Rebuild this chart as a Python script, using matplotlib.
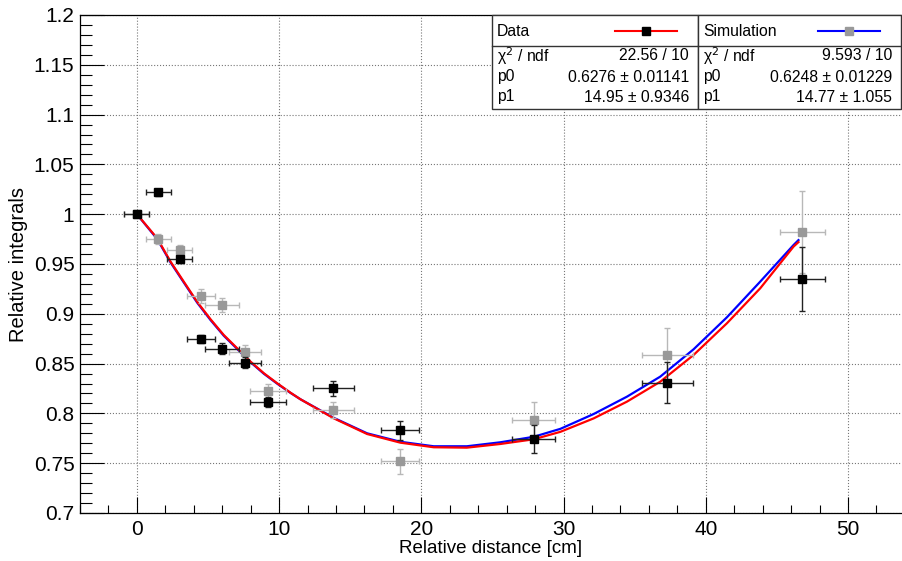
import numpy as np
import matplotlib.pyplot as plt
from matplotlib.patches import Rectangle
from matplotlib.lines import Line2D
from matplotlib.ticker import MultipleLocator

plt.rcParams['font.family'] = ['Liberation Sans', 'DejaVu Sans']

dist = [0.0, 1.5, 3.0, 4.5, 6.0, 7.6, 9.2, 13.8, 18.5, 27.9, 37.3, 46.8]
dist_err = [0.88, 0.87, 0.91, 1.0, 1.2, 1.1, 1.26, 1.44, 1.34, 1.53, 1.79, 1.57]

data_y = [1.000, 1.022, 0.955, 0.875, 0.865, 0.851, 0.811, 0.825, 0.783, 0.774, 0.831, 0.935]
data_err = [0.003, 0.0033, 0.0035, 0.004, 0.0053, 0.0057, 0.005, 0.008, 0.0097, 0.014, 0.021, 0.032]

sim_y = [1.000, 0.975, 0.964, 0.918, 0.909, 0.862, 0.822, 0.803, 0.752, 0.793, 0.859, 0.982]
sim_err = [0.003, 0.0047, 0.005, 0.0067, 0.007, 0.007, 0.008, 0.008, 0.0125, 0.018, 0.027, 0.041]

# fitted curves
fit_x = [0.0, 1.43, 2.37, 3.3, 4.24, 5.18, 6.11, 7.06, 7.99, 8.93, 9.87, 10.8, 11.5,
         13.85, 16.19, 18.53, 20.87, 23.2, 25.56, 27.9, 29.78, 32.12, 34.46, 36.8,
         39.14, 41.49, 43.83, 46.17, 46.52]
fit_data = [1.0, 0.9758, 0.9523, 0.9322, 0.912, 0.8945, 0.8787, 0.8653, 0.852, 0.8403, 0.8302,
            0.8208, 0.8142, 0.795, 0.7793, 0.7706, 0.766, 0.7656, 0.7693, 0.774, 0.7815, 0.795,
            0.8118, 0.8318, 0.8586, 0.8905, 0.9256, 0.9674, 0.972]
fit_sim = [1.0, 0.975, 0.9515, 0.9314, 0.9112, 0.8937, 0.878, 0.8646, 0.8514, 0.8398, 0.8298,
           0.8206, 0.8142, 0.7955, 0.780, 0.7715, 0.767, 0.767, 0.771, 0.7765, 0.7845, 0.7994,
           0.8168, 0.8369, 0.8643, 0.8965, 0.9323, 0.969, 0.974]

stats_data = [("χ$^2$ / ndf", "22.56 / 10"), ("p0", "0.6276 ± 0.01141"), ("p1", "14.95 ± 0.9346")]
stats_sim = [("χ$^2$ / ndf", "9.593 / 10"), ("p0", "0.6248 ± 0.01229"), ("p1", "14.77 ± 1.055")]

W, H = 902, 561
fig = plt.figure(figsize=(W / 100, H / 100), dpi=100)
ax = fig.add_axes([80 / W, 48 / H, 1 - 80 / W, 498 / H])


def px(x, y):
    # pixel coords (top-left origin) -> figure fraction
    return x / W, 1 - y / H


ax.plot(fit_x, fit_sim, color='blue', lw=1.6, zorder=3)
ax.plot(fit_x, fit_data, color='red', lw=1.6, zorder=4)

ax.errorbar(dist, sim_y, xerr=dist_err, yerr=sim_err, fmt='s', ms=5.5,
            color='#999999', ecolor='#b8b8b8', elinewidth=1, capsize=2, zorder=5)
ax.errorbar(dist, data_y, xerr=dist_err, yerr=data_err, fmt='s', ms=5.5,
            color='black', ecolor='#222222', elinewidth=1, capsize=2, zorder=6)

ax.set_xlim(-4, 53.8)
ax.set_ylim(0.7, 1.2)
ax.xaxis.set_major_locator(MultipleLocator(10))
ax.xaxis.set_minor_locator(MultipleLocator(2))
ax.yaxis.set_major_locator(MultipleLocator(0.05))
ax.yaxis.set_minor_locator(MultipleLocator(0.01))
ax.yaxis.set_major_formatter(plt.FuncFormatter(lambda v, p: f"{v:g}"))

ax.tick_params(axis='x', which='major', direction='in', length=11.5, width=0.8,
               top=False, labelsize=15, pad=5)
ax.tick_params(axis='x', which='minor', direction='in', length=5.8, width=0.8, top=False)
ax.tick_params(axis='y', which='major', direction='in', length=17, width=0.8,
               right=False, labelsize=15, pad=4)
ax.tick_params(axis='y', which='minor', direction='in', length=8.5, width=0.8, right=False)

ax.grid(True, which='major', linestyle=':', color='#777777', lw=0.8)
ax.set_axisbelow(True)
ax.spines['right'].set_visible(False)
for s in ('left', 'bottom', 'top'):
    ax.spines[s].set_linewidth(0.9)

ax.set_xlabel("Relative distance [cm]", fontsize=13.5, labelpad=1)
ax.set_ylabel("Relative integrals", fontsize=14.5, labelpad=4)

# stat boxes
boxes = [
    (492, 698, "Data", 'red', 'black', stats_data),
    (698, 901, "Simulation", 'blue', '#999999', stats_sim),
]
top, sep, bottom = 15, 46, 109
for x0, x1, title, lc, mc, rows in boxes:
    fx0, fy0 = px(x0, bottom)
    fx1, fy1 = px(x1, top)
    fig.patches.append(Rectangle((fx0, fy0), fx1 - fx0, fy1 - fy0, transform=fig.transFigure,
                                 facecolor='white', edgecolor='#333333', lw=1, zorder=10))
    fig.lines.append(Line2D([fx0, fx1], [px(0, sep)[1]] * 2, transform=fig.transFigure,
                            color='#333333', lw=1, zorder=11))
    fig.text(*px(x0 + 5, 31), title, fontsize=11.3, va='center', ha='left', zorder=12)
    lx0, lx1 = x1 - 83, x1 - 21
    fig.lines.append(Line2D([px(lx0, 0)[0], px(lx1, 0)[0]], [px(0, 31)[1]] * 2,
                            transform=fig.transFigure, color=lc, lw=1.5, zorder=12))
    fig.lines.append(Line2D([px((lx0 + lx1) / 2, 0)[0]], [px(0, 31)[1]], transform=fig.transFigure,
                            marker='s', ms=5.5, color=mc, lw=0, zorder=13))
    for i, (name, val) in enumerate(rows):
        yy = [56, 77, 97][i]
        fig.text(*px(x0 + 5, yy), name, fontsize=11.3, va='center', ha='left', zorder=12)
        fig.text(*px(x1 - 9, yy), val, fontsize=11.3, va='center', ha='right', zorder=12)

fig.savefig("out.png", dpi=100)
